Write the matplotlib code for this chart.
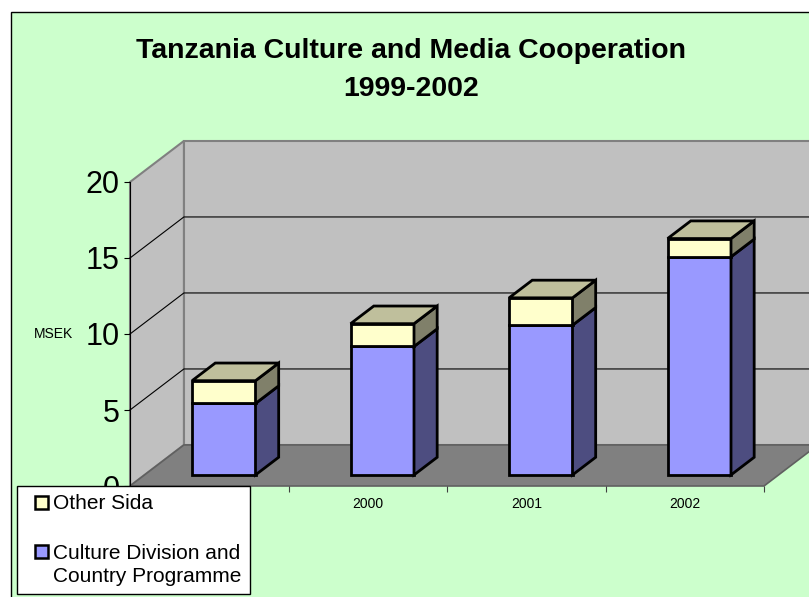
import matplotlib.pyplot as plt
from matplotlib.patches import Polygon, Rectangle, Patch
from matplotlib.legend_handler import HandlerPatch

years = ['1999', '2000', '2001', '2002']
culture = [4.7, 8.45, 9.85, 14.35]     # Culture Division and Country Programme
other = [1.5, 1.5, 1.8, 1.2]           # Other Sida
series_names = ['Other Sida', 'Culture Division and\nCountry Programme']
y_ticks = [0, 5, 10, 15, 20]

plt.rcParams['font.family'] = ['Liberation Sans', 'DejaVu Sans']

W, H = 809, 597
fig = plt.figure(figsize=(W / 100, H / 100), dpi=100)
fig.patch.set_facecolor('white')

# green chart area with black frame (runs off right/bottom)
fig.patches.append(Rectangle((11 / W, -0.02), 1.0, 1 - 12 / H + 0.02,
                             transform=fig.transFigure, fc='#CCFFCC',
                             ec='black', lw=1, zorder=-1))

ax = fig.add_axes([130 / W, 1 - 486 / H, 634 / W, 304 / H])
ax.set_xlim(0, len(years))
ax.set_ylim(y_ticks[0], y_ticks[-1])
ax.patch.set_visible(False)

# fake 3d: depth d in [0,1] shifts points right/up
DX, DY = 0.34, 2.7


def P(x, v, d):
    return (x + d * DX, v + d * DY)


def face(pts, fc, ec='black', lw=2.0, z=2):
    ax.add_patch(Polygon(pts, closed=True, fc=fc, ec=ec, lw=lw,
                         clip_on=False, zorder=z, joinstyle='miter'))


nx = len(years)
top = y_ticks[-1]
# walls and floor
face([P(0, 0, 1), P(nx, 0, 1), P(nx, top, 1), P(0, top, 1)], '#C0C0C0', '#808080', 1.5, 0.5)
face([P(0, 0, 0), P(0, 0, 1), P(0, top, 1), P(0, top, 0)], '#C0C0C0', '#808080', 1.5, 0.6)
face([P(0, 0, 0), P(nx, 0, 0), P(nx, 0, 1), P(0, 0, 1)], '#808080', '#606060', 1.2, 0.7)

# gridlines on back and side wall
for v in y_ticks[1:-1]:
    xs, ys = zip(P(0, v, 0), P(0, v, 1), P(nx, v, 1))
    ax.plot(xs, ys, color='black', lw=0.8, clip_on=False, zorder=0.8)

# bars
bw, d0, d1 = 0.2, 0.27, 0.7
colors = [('#9999FF', '#4D4D80', '#9999FF'), ('#FFFFCC', '#80806A', '#BFBF9C')]
for i in range(nx):
    x0, x1 = i + 0.5 - bw, i + 0.5 + bw
    segs = [(0, culture[i]), (culture[i], culture[i] + other[i])]
    for k, (lo, hi) in enumerate(segs):
        front, side, tp = colors[k]
        face([P(x0, lo, d0), P(x1, lo, d0), P(x1, hi, d0), P(x0, hi, d0)], front)
        face([P(x1, lo, d0), P(x1, lo, d1), P(x1, hi, d1), P(x1, hi, d0)], side)
        if k == len(segs) - 1:
            face([P(x0, hi, d0), P(x1, hi, d0), P(x1, hi, d1), P(x0, hi, d1)], tp)

# axes
for s in ['top', 'right', 'bottom']:
    ax.spines[s].set_visible(False)
ax.spines['left'].set_linewidth(0.8)
ax.set_yticks(y_ticks)
ax.tick_params(axis='y', direction='out', length=4.5, width=0.8, labelsize=22, pad=3)
ax.set_xticks(range(nx + 1))
ax.set_xticklabels([])
ax.tick_params(axis='x', which='major', direction='out', length=4, width=0.8, color='#404040')
ax.set_xticks([i + 0.5 for i in range(nx)], minor=True)
ax.set_xticklabels(years, minor=True)
ax.tick_params(axis='x', which='minor', length=0, labelsize=10, pad=8)
ax.set_ylabel('MSEK', rotation=0, fontsize=10, ha='center', va='center')
ax.yaxis.set_label_coords(-0.12, 0.5)

fig.text(411 / W, 1 - 70 / H, 'Tanzania Culture and Media Cooperation\n1999-2002',
         ha='center', va='center', fontsize=20.5, weight='bold', linespacing=1.56)


# legend: small squares at the right of a wider handle box
def make_square(shift):
    def square(legend, orig_handle, xdescent, ydescent, width, height, fontsize):
        s = 0.62 * fontsize
        return Rectangle((width - s - xdescent, -ydescent + (height - s) / 2 + shift * fontsize), s, s)
    return square


handles = [Patch(fc='#FFFFCC', ec='black', lw=1.8), Patch(fc='#9999FF', ec='black', lw=1.8)]
leg = fig.legend(handles, series_names, loc='upper left',
                 bbox_to_anchor=(17 / W, 1 - 486 / H), bbox_transform=fig.transFigure,
                 borderaxespad=0, fancybox=False, framealpha=1, edgecolor='black',
                 fontsize=15, borderpad=0.4, labelspacing=1.45, handlelength=1.1,
                 handleheight=0.7, handletextpad=0.25,
                 handler_map={handles[0]: HandlerPatch(patch_func=make_square(0)),
                              handles[1]: HandlerPatch(patch_func=make_square(0.64))})
leg.get_frame().set_linewidth(1)
leg.get_texts()[1].set_linespacing(1.3)

fig.savefig('out.png', dpi=100)
